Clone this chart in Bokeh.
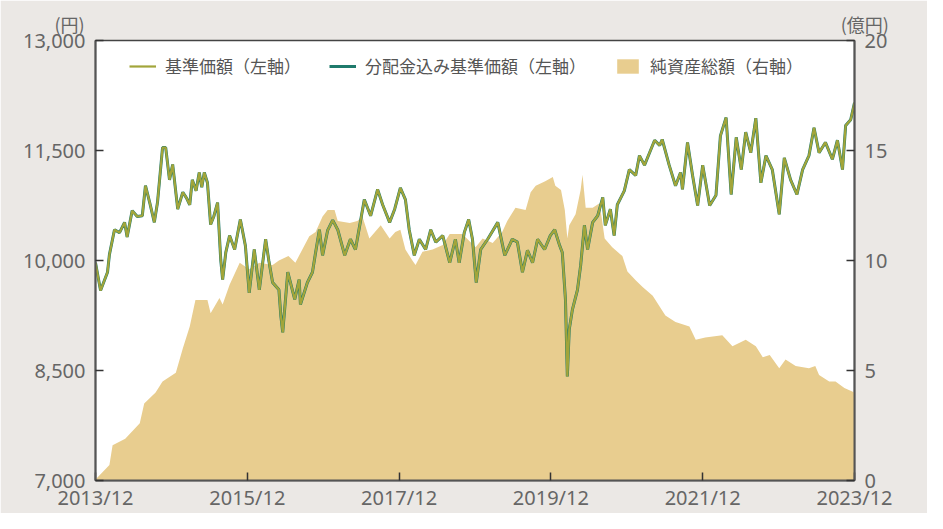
from bokeh.plotting import figure
from bokeh.models import (Range1d, LinearAxis, FixedTicker, NumeralTickFormatter,
                          Legend, LegendItem, Title)
from bokeh.embed import file_html
from bokeh.resources import INLINE

# ---- data (months since 2013/12) ----
x_tick_months = [0, 24, 48, 72, 96, 120]
x_tick_labels = ["2013/12", "2015/12", "2017/12", "2019/12", "2021/12", "2023/12"]
left_ticks = [7000, 8500, 10000, 11500, 13000]
right_ticks = [0, 5, 10, 15, 20]
unit_left = "(円)"
unit_right = "(億円)"

nav_month = [0, 0.8, 1.9, 2.2, 3, 3.8, 4.6, 5.0, 5.8, 6.6, 7.4, 7.9, 8.6, 9.3, 9.8,
             10.6, 11.1, 11.7, 12.2, 13, 13.8, 14.4, 14.9, 15.3, 15.9, 16.4, 16.8, 17.2,
             17.7, 18.2, 18.7, 19.3, 19.8, 20.1, 20.6, 21.2, 22, 22.9, 23.7, 24.3, 25.1,
             25.9, 26.9, 27.4, 28, 29, 29.3, 29.6, 30.4, 31.5, 32.2, 32.4, 33.5, 34.3,
             34.8, 35.4, 35.9, 36.7, 37.5, 38.3, 39.4, 40.3, 41.1, 42.5, 43.5, 44.6,
             45.4, 46.5, 47.3, 48.2, 49, 49.6, 50.4, 51.2, 52.2, 53, 53.8, 54.9, 56,
             56.9, 57.5, 58.3, 59, 59.6, 60.2, 60.9, 62, 63.6, 64.7, 65.9, 66.7, 67.5,
             68.3, 69.1, 69.9, 71, 71.9, 72.6, 73.4, 73.8, 74.3, 74.6, 74.9, 75.4, 76.2,
             76.7, 77.3, 77.8, 78.6, 79.4, 80.2, 80.6, 81.4, 82, 82.5, 83.6, 84.4, 85.4,
             86, 86.8, 87.6, 88.4, 89.2, 89.6, 90.7, 91.7, 92.5, 92.8, 93.6, 94.4, 95.2,
             96, 97.1, 98.1, 98.8, 99.7, 100.5, 101.3, 102.1, 102.8, 103.6, 104.4, 105.2,
             106, 107, 108.1, 108.9, 109.9, 110.9, 111.8, 112.8, 113.6, 114.4, 115.4,
             116.5, 117.3, 118.1, 118.6, 119.4, 120]
nav = [9970, 9590, 9840, 10080, 10420, 10380, 10520, 10320, 10680, 10600, 10610, 11020,
       10780, 10520, 10790, 11540, 11540, 11100, 11310, 10700, 10930, 10850, 10760, 11100,
       10950, 11200, 11000, 11200, 11060, 10490, 10600, 10790, 10010, 9740, 10110, 10340,
       10150, 10560, 10200, 9560, 10150, 9600, 10290, 10000, 9700, 9600, 9250, 9020, 9840,
       9470, 9740, 9400, 9700, 9840, 10110, 10420, 10070, 10410, 10550, 10420, 10070,
       10290, 10150, 10830, 10610, 10970, 10760, 10520, 10700, 10990, 10830, 10420, 10070,
       10290, 10150, 10420, 10250, 10340, 9970, 10290, 9970, 10380, 10560, 10290, 9700,
       10150, 10290, 10520, 10070, 10290, 10250, 9840, 10140, 9970, 10290, 10150, 10340,
       10420, 10200, 10110, 9470, 8420, 9060, 9330, 9600, 9930, 10480, 10150, 10520, 10610,
       10860, 10480, 10700, 10340, 10760, 10950, 11240, 11160, 11430, 11300, 11470, 11640,
       11570, 11650, 11300, 11020, 11200, 10970, 11610, 11160, 10750, 11300, 10750, 10890,
       11700, 11950, 10900, 11680, 11240, 11750, 11470, 11940, 11060, 11430, 11240, 10630,
       11400, 11100, 10900, 11240, 11430, 11810, 11470, 11610, 11380, 11640, 11240, 11840,
       11920, 12150]
# fund paid no distributions: reinvested NAV equals NAV
nav_reinv = list(nav)

asset_month = [0, 2.2, 2.7, 4.7, 7, 7.7, 9.5, 10.6, 12.7, 13.8, 14.9, 15.8, 17.7, 18.2,
               19.6, 20.1, 21.2, 22.8, 24.3, 25.9, 28, 29, 30.5, 31.6, 32.7, 33.8, 34.8,
               35.9, 36.7, 37.8, 38.3, 40.2, 41.4, 42.2, 43.3, 45.1, 46.5, 47.4, 48.2, 49,
               50.1, 50.6, 51.7, 53.3, 54.9, 56, 58, 60.1, 61.2, 62.8, 64.3, 65.1, 66.4,
               68, 68.8, 69.6, 71.1, 72.3, 72.7, 73.6, 74.2, 74.6, 74.9, 75.9, 76.7, 77,
               77.5, 78.6, 79.7, 80.5, 81.7, 83.3, 84.1, 85.4, 86.5, 88.1, 90.1, 91.7,
               93.9, 94.9, 96.4, 99.1, 100.7, 102.8, 104.4, 105.5, 106.6, 108.1, 109.1,
               110.7, 112.8, 113.8, 114.4, 116, 117, 118.4, 120]
assets = [0.05, 0.7, 1.6, 1.9, 2.6, 3.5, 4.0, 4.5, 4.9, 6.0, 7.0, 8.2, 8.2, 7.6, 8.3, 8.0,
          8.9, 9.9, 9.6, 9.9, 9.8, 10.0, 10.2, 9.9, 10.5, 11.1, 11.3, 12.0, 12.3, 12.3,
          11.8, 11.7, 11.8, 12.0, 11.0, 11.6, 11.0, 11.3, 11.4, 10.5, 10.0, 9.8, 10.4,
          10.5, 10.7, 11.2, 11.2, 10.6, 11.0, 10.8, 11.3, 11.8, 12.4, 12.3, 13.1, 13.4,
          13.6, 13.8, 13.4, 13.2, 12.3, 11.0, 11.6, 12.1, 13.2, 13.9, 12.4, 12.4, 12.6,
          11.0, 10.6, 10.2, 9.5, 9.1, 8.8, 8.4, 7.5, 7.2, 7.0, 6.4, 6.5, 6.6, 6.1, 6.4,
          6.1, 5.6, 5.7, 5.1, 5.5, 5.2, 5.1, 5.2, 4.8, 4.5, 4.5, 4.2, 4.0]

# ---- figure ----
BG = "#ebe8e5"
TXT = "#666666"
p = figure(width=927, height=513, output_backend="svg", toolbar_location=None,
           x_range=Range1d(0, 120), y_range=Range1d(7000, 13000),
           min_border_left=95, min_border_right=73, min_border_top=40, min_border_bottom=33,
           background_fill_color="white", border_fill_color=BG,
           outline_line_color="#444444", outline_line_width=1.5)
p.grid.visible = False
p.extra_y_ranges = {"assets": Range1d(0, 20)}

r_area = p.varea(x=asset_month, y1=0, y2=assets, y_range_name="assets",
                 fill_color="#e8cd8f", fill_alpha=1)
r_teal = p.line(nav_month, nav_reinv, line_color="#1f7a6c", line_width=3)
r_olive = p.line(nav_month, nav, line_color="#a2a53a", line_width=2.2)

right = LinearAxis(y_range_name="assets")
p.add_layout(right, "right")

p.xaxis.ticker = FixedTicker(ticks=x_tick_months)
p.xaxis.major_label_overrides = {m: l for m, l in zip(x_tick_months, x_tick_labels)}
p.yaxis[0].ticker = FixedTicker(ticks=left_ticks)
p.yaxis[0].formatter = NumeralTickFormatter(format="0,0")
right.ticker = FixedTicker(ticks=right_ticks)

for ax in [p.xaxis[0], p.yaxis[0], right]:
    ax.axis_line_color = "#555555"
    ax.axis_line_width = 2
    ax.major_tick_line_color = "#333333"
    ax.major_tick_line_width = 1.5
    ax.major_tick_in = 8
    ax.major_tick_out = 0
    ax.minor_tick_line_color = None
    ax.major_label_text_font = "Noto Sans"
    ax.major_label_text_font_size = "20px"
    ax.major_label_text_color = TXT
    ax.major_label_standoff = 10
p.xaxis.major_label_standoff = 3

legend = Legend(items=[
    LegendItem(label="基準価額（左軸）", renderers=[r_olive]),
    LegendItem(label="分配金込み基準価額（左軸）", renderers=[r_teal]),
    LegendItem(label="純資産総額（右軸）", renderers=[r_area]),
], orientation="horizontal", location=(30, 398), padding=4, margin=0,
    spacing=28, glyph_width=27, glyph_height=18, label_standoff=9,
    label_text_font="Noto Sans CJK JP", label_text_font_size="17px",
    label_text_color="#555555", background_fill_alpha=0, border_line_alpha=0)
p.add_layout(legend)

# axis unit captions above both y axes (annotations in the frame are clipped,
# so they share one title row, separated by ideographic spaces)
caption = unit_left + "\u3000" * 42 + unit_right
p.add_layout(Title(text=caption, align="left", offset=-41, standoff=8,
                   text_font="Noto Sans CJK JP", text_font_size="18px",
                   text_font_style="normal", text_color=TXT), "above")

open("out.html", "w").write(file_html(p, INLINE))
